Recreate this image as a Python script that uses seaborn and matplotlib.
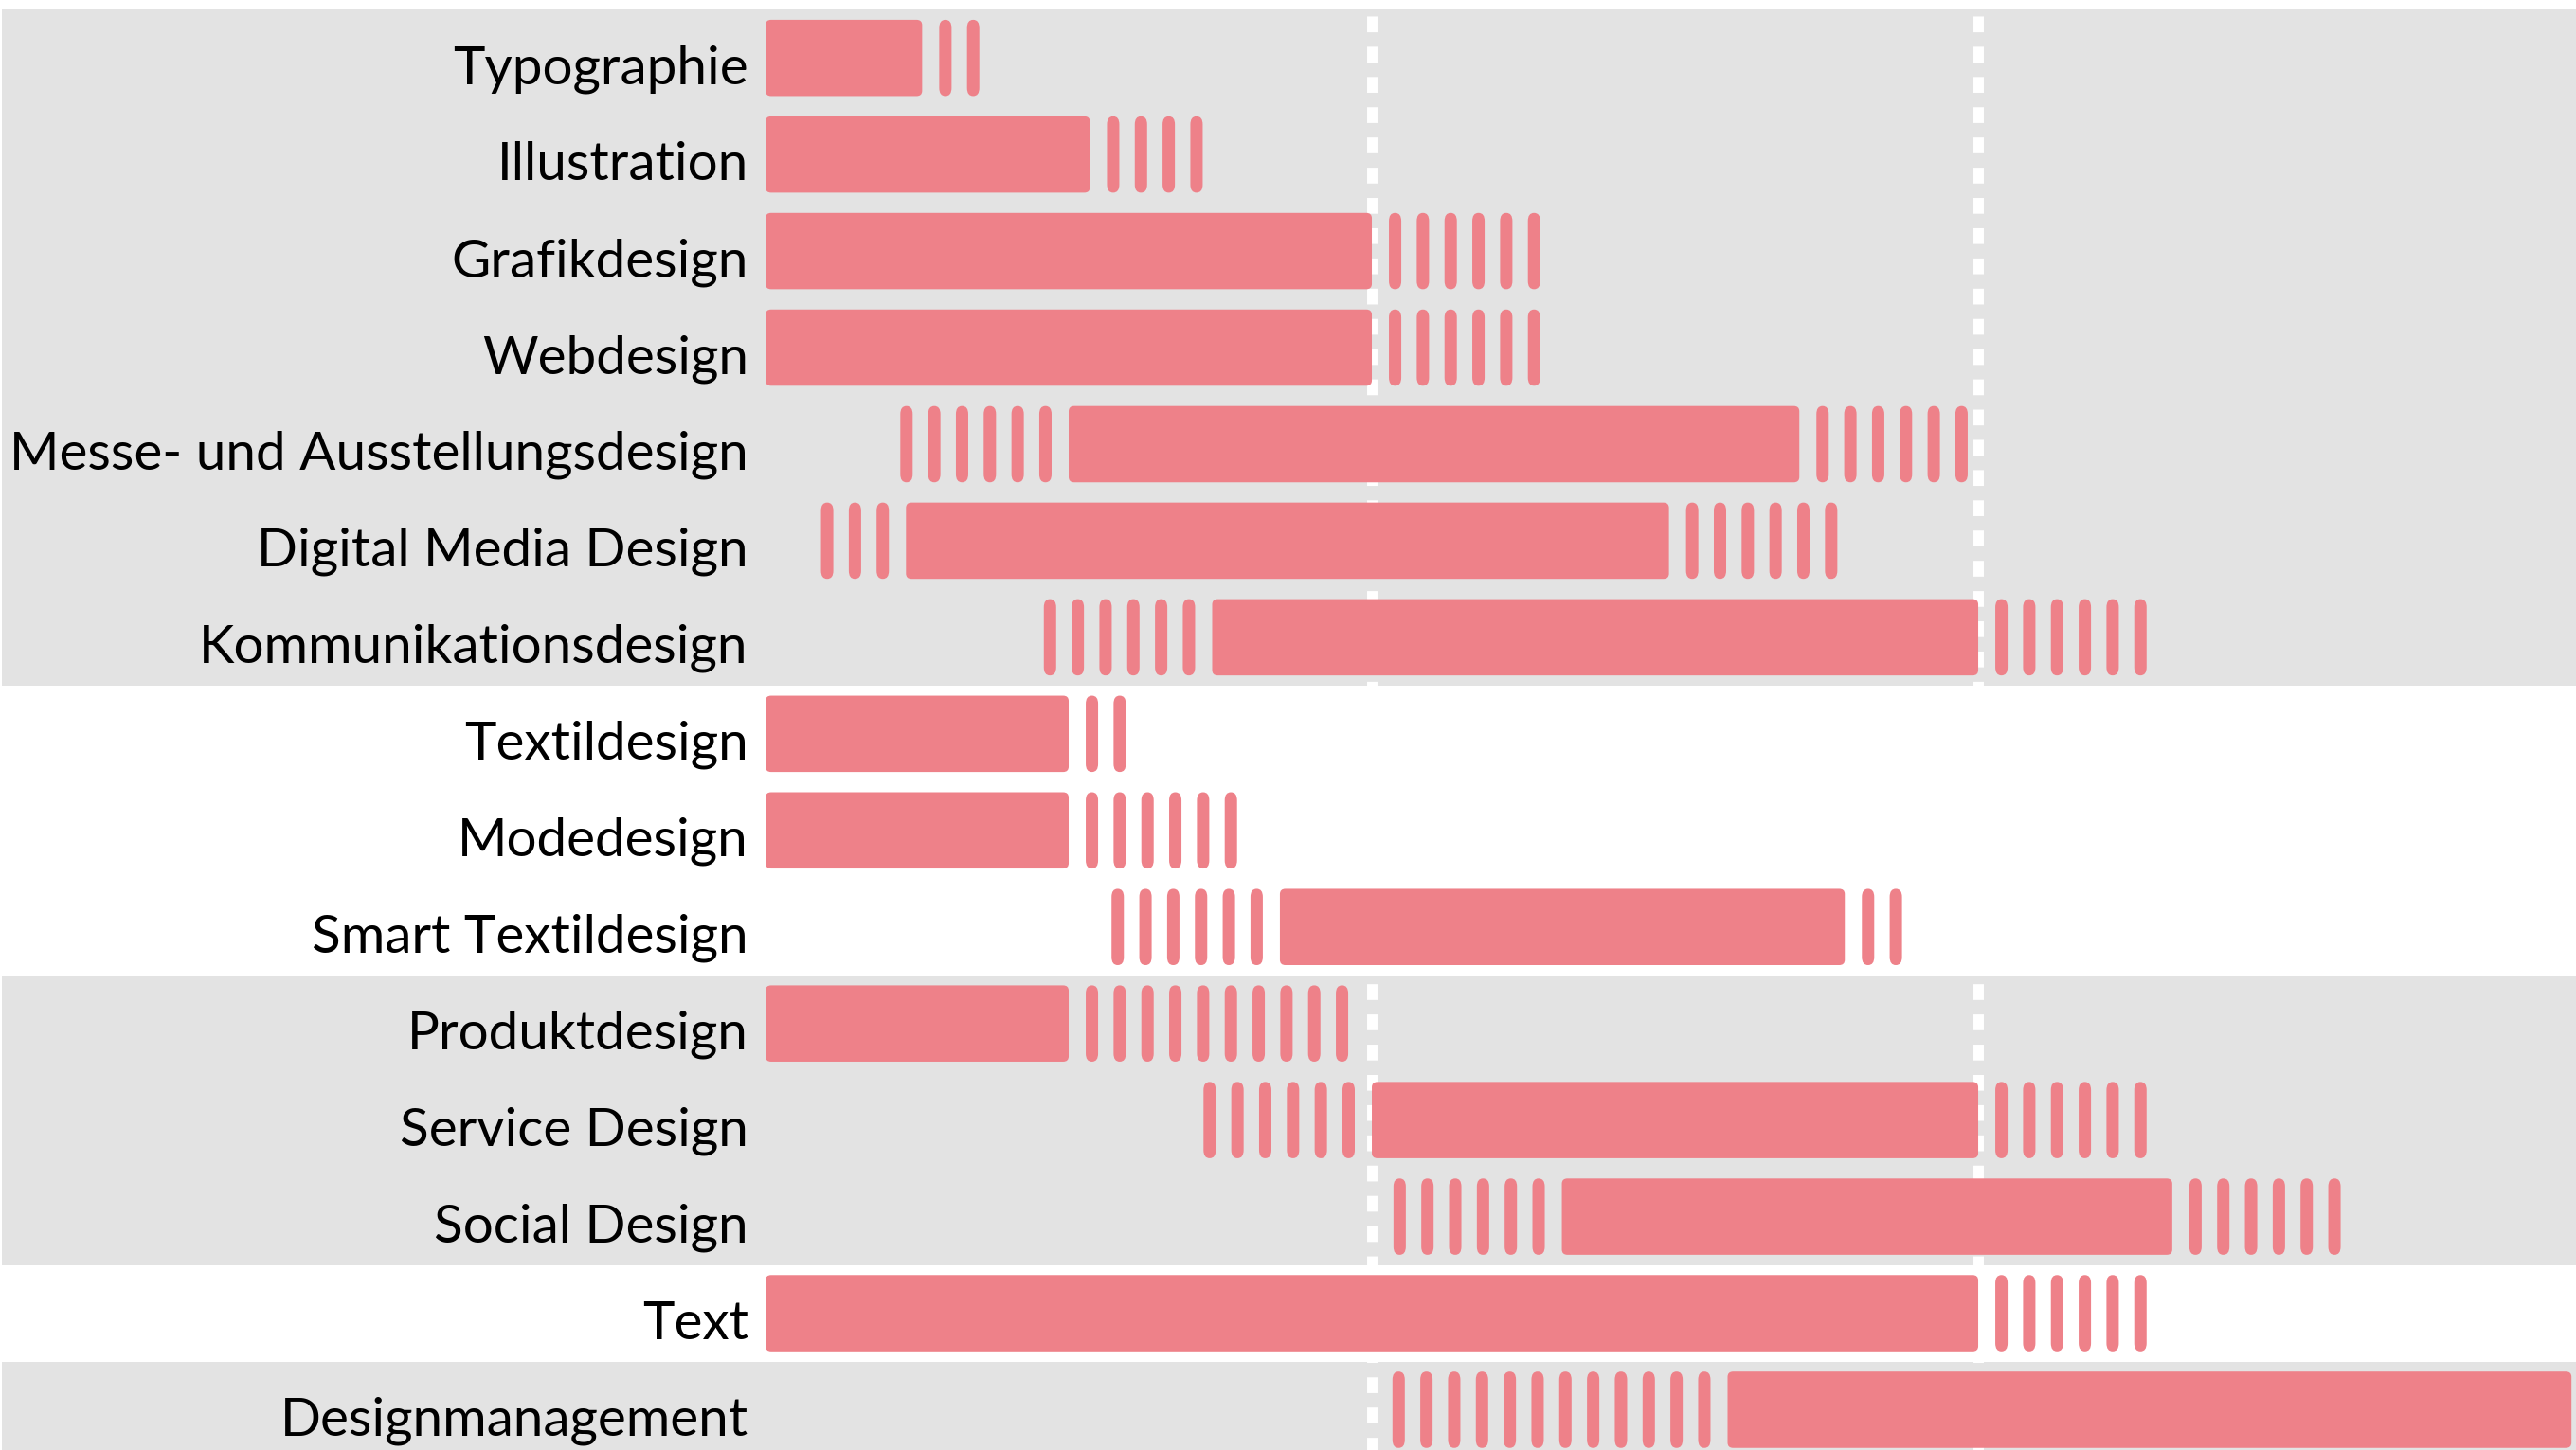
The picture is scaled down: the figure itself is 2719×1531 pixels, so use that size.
"""
Studiendauer nach Fachrichtung - Balken mit Zusatzsemestern
"""

import numpy as np
import pandas as pd
import matplotlib
matplotlib.use("Agg")
import matplotlib.pyplot as plt
from matplotlib.patches import FancyBboxPatch
import seaborn as sns

# Daten
faecher = [
    "Typographie", "Illustration", "Grafikdesign", "Webdesign",
    "Messe- und Ausstellungsdesign", "Digital Media Design",
    "Kommunikationsdesign", "Textildesign", "Modedesign",
    "Smart Textildesign", "Produktdesign", "Service Design",
    "Social Design", "Text", "Designmanagement",
]
start = [0, 0, 0, 0, 3.0, 1.39, 4.42, 0, 0, 5.09, 0, 6.0, 7.88, 0, 9.52]
ende = [1.55, 3.21, 6.0, 6.0, 10.23, 8.94, 12.0, 3.0, 3.0, 10.68, 3.0, 12.0, 13.92, 12.0, 17.87]
striche_vor = [0, 0, 0, 0, 6, 3, 6, 0, 0, 6, 0, 6, 6, 0, 12]
striche_nach = [2, 4, 6, 6, 6, 6, 6, 2, 6, 2, 10, 6, 6, 6, 0]
grenzen = [6, 12]          # gestrichelte Linien
grau_bereiche = [(-0.5, 6.5), (9.5, 12.5), (13.5, 14.5)]

PINK = "#EE8189"
GRAU = "#E3E3E3"

sns.set_theme(style="white")
plt.rcParams["font.family"] = ["Lato", "DejaVu Sans"]

W, H, DPI = 2719, 1531, 100
fig = plt.figure(figsize=(W / DPI, H / DPI), dpi=DPI)
ax = fig.add_axes([0, 0, 1, 1])

df = pd.DataFrame({"fach": faecher, "dauer": np.array(ende) - np.array(start)})
sns.barplot(data=df, y="fach", x="dauer", orient="h", left=start, color=PINK,
            saturation=1, width=0.79, errorbar=None, ax=ax)

# Balken abrunden
for p in list(ax.patches):
    bb = p.get_bbox()
    rund = FancyBboxPatch((bb.x0, bb.y0), bb.width, bb.height,
                          boxstyle="round,pad=0,rounding_size=0.055",
                          fc=PINK, ec="none", zorder=2)
    p.remove()
    ax.add_patch(rund)

# Hintergrundbaender
for y0, y1 in grau_bereiche:
    ax.axhspan(y0, y1, xmin=2 / W, xmax=1, color=GRAU, lw=0, zorder=0)

for g in grenzen:
    ax.axvline(g, color="white", lw=7.9, linestyle=(0.3, (1.52, 1.39)), zorder=1)

# Zusatzstriche
abstand, luecke, breite, hoehe = 0.275, 0.23, 0.122, 0.79
for i in range(len(faecher)):
    for k in range(striche_nach[i]):
        xc = ende[i] + luecke + k * abstand
        ax.add_patch(FancyBboxPatch((xc - breite / 2, i - hoehe / 2), breite, hoehe,
                                    boxstyle="round,pad=0,rounding_size=0.06",
                                    mutation_aspect=1.4, fc=PINK, ec="none", zorder=2))
    for k in range(striche_vor[i]):
        xc = start[i] - luecke - k * abstand
        ax.add_patch(FancyBboxPatch((xc - breite / 2, i - hoehe / 2), breite, hoehe,
                                    boxstyle="round,pad=0,rounding_size=0.06",
                                    mutation_aspect=1.4, fc=PINK, ec="none", zorder=2))

# Beschriftung
for i, name in enumerate(faecher):
    ax.text(-0.17, i + 0.265, name, ha="right", va="baseline",
            fontsize=40.8, color="black", zorder=3)

ax.set_xlim(-808 / 106.67, (W - 808) / 106.67)
ax.set_ylim(14.417, -0.600)
ax.set_axis_off()

fig.savefig("out.png", dpi=DPI)
